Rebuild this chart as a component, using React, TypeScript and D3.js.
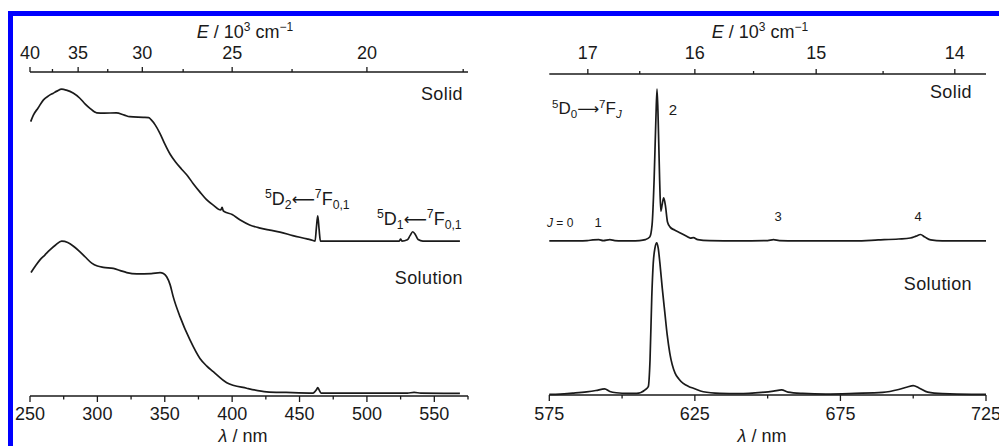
import React from "react";
import * as d3 from "d3";

// ---------- data (wavelength nm, relative intensity 0-100) ----------
const absSolid: [number, number][] = [
  [250.5, 84.7], [252.5, 86.7], [256, 88.9], [260, 91.4], [264, 92.7], [267, 93.4], [270, 94.1],
  [273.5, 94.7], [277, 94.4], [282, 93.5], [287, 91.9], [291, 90.1], [294.5, 88.8], [299.5, 87.4],
  [305, 87.3], [314, 87.4], [320, 86.7], [324, 86.2], [334, 86.0], [338, 85.9], [340, 85.2],
  [343, 83.6], [346.5, 81.0], [350, 77.8], [354, 74.6], [358, 72.2], [362.5, 70.0], [367, 67.9],
  [371, 65.6], [376, 63.0], [381, 60.6], [386, 58.9], [391.5, 57.4], [392.5, 58.2], [393.5, 57.1],
  [400, 56.0], [406, 54.3], [413, 52.8], [420, 51.9], [428, 51.2], [435.5, 50.6], [445, 49.5],
  [455.5, 48.5], [460, 48.0], [461.5, 47.8], [462.5, 51.9], [463.5, 55.6], [464.5, 51.5],
  [465.5, 47.8], [470, 47.8], [500, 47.8], [524, 47.8], [525, 48.4], [526, 47.8], [530, 48.2],
  [532, 49.5], [534, 50.7], [536, 49.8], [538, 48.3], [541.6, 47.8], [550, 47.8], [569, 47.8]
];

const absSolution: [number, number][] = [
  [250.7, 38.1], [254, 40.1], [257.4, 42.0], [261, 43.5], [264.8, 45.1], [269, 46.6], [273.5, 47.8],
  [278, 47.4], [283, 46.0], [287.1, 44.5], [291, 42.9], [295.8, 41.0], [300, 40.1], [304.4, 39.7],
  [311.8, 39.4], [317, 38.7], [321.8, 38.1], [329.2, 37.7], [340, 37.8], [346.5, 38.1], [349, 37.8],
  [351.4, 36.8], [354, 34.3], [356.3, 30.6], [361.3, 24.5], [368.7, 17.3], [376.1, 11.6], [381, 9.3],
  [386, 7.5], [396, 4.1], [410.8, 2.4], [425.6, 1.3], [440, 1.1], [460, 0.9], [462.5, 1.9],
  [463.5, 2.6], [464.5, 1.9], [466, 0.9], [530, 0.9], [535, 1.1], [540, 0.9], [569, 0.8]
];

const emSolid: [number, number][] = [
  [575, 48.0], [580, 48.0], [585, 48.0], [588, 48.1], [590, 48.3], [592, 48.4], [593.5, 48.1],
  [595.8, 48.4], [597.5, 48.1], [600, 48.0], [603, 48.0], [606, 48.1], [608, 48.4], [609.5, 49.2],
  [610.3, 53.0], [611, 67.0], [611.6, 85.7], [612, 95.3], [612.4, 85.7], [612.9, 67.0], [613.3, 57.3],
  [613.8, 59.5], [614.3, 61.4], [614.9, 58.9], [615.6, 53.9], [616.5, 52.3], [618, 51.4], [620, 50.5],
  [622, 49.5], [623.5, 48.9], [624.5, 49.0], [626, 48.4], [630, 48.1], [640, 48.0], [650, 48.1],
  [652, 48.4], [654, 48.1], [660, 48.0], [670, 48.0], [680, 48.0], [688, 48.3], [695, 48.6],
  [699, 48.9], [701, 49.5], [702.5, 50.0], [704, 49.2], [706, 48.3], [710, 48.0], [725, 48.0]
];

const emSolution: [number, number][] = [
  [575, 0.2], [578.7, 0.3], [583, 0.6], [587.8, 1.0], [591, 1.4], [594, 1.9], [595.8, 1.1],
  [598, 0.7], [602, 0.5], [605, 0.5], [607.9, 1.6], [609, 2.6], [609.6, 10.9], [610.2, 30.6],
  [610.7, 41.0], [611.3, 45.8], [611.9, 47.4], [612.4, 45.8], [613, 41.0], [613.8, 33.3],
  [614.7, 25.5], [615.5, 18.7], [616.4, 13.0], [618.2, 6.8], [619.5, 5.0], [621, 3.6], [623, 2.6],
  [624.5, 2.1], [627.9, 1.0], [633.6, 0.5], [640, 0.4], [648, 0.8], [652, 1.2], [654.8, 1.6],
  [657, 0.9], [662, 0.5], [670, 0.3], [680, 0.5], [689.5, 0.8], [695, 1.7], [698, 2.5], [700, 2.9],
  [702, 2.2], [705, 0.9], [710, 0.4], [720, 0.2], [725, 0.2]
];

const leftNmMajor = [250, 300, 350, 400, 450, 500, 550];
const leftNmMinor = [275, 325, 375, 425, 475, 525, 575];
const leftEMajor = [40, 35, 30, 25, 20];
const leftEMinor = [37.5, 32.5, 27.5, 22.5, 17.5];
const rightNmMajor = [575, 625, 675, 725];
const rightNmMinor = [600, 650, 700];
const rightEMajor = [17, 16, 15, 14];
const rightEMinor = [16.5, 15.5, 14.5];

const FONT = "'Liberation Sans', Arial, Helvetica, sans-serif";
const INK = "#1a1a1a";

type PanelProps = {
  x0: number; x1: number; top: number; bottom: number;
  domain: [number, number];
  nmMajor: number[]; nmMinor: number[]; eMajor: number[]; eMinor: number[];
  series: [number, number][][];
  titleTopX: number; titleBotX: number;
};

function Panel(p: PanelProps) {
  const x = d3.scaleLinear().domain(p.domain).range([p.x0, p.x1]);
  const y = d3.scaleLinear().domain([0, 100]).range([p.bottom, p.top]);
  const line = d3.line<[number, number]>().x(d => x(d[0])).y(d => y(d[1])).curve(d3.curveMonotoneX);
  const ex = (e: number) => x(10000 / e);
  return (
    <g>
      {/* top axis */}
      <line x1={p.x0} x2={p.x1} y1={p.top} y2={p.top} stroke={INK} strokeWidth={1.5} />
      {p.eMajor.map(e => (
        <g key={"em" + e}>
          <line x1={ex(e)} x2={ex(e)} y1={p.top} y2={p.top - 5} stroke={INK} strokeWidth={1.3} />
          <text x={ex(e)} y={59} textAnchor="middle" fontSize={18} fill={INK}>{e}</text>
        </g>
      ))}
      {p.eMinor.map(e => (
        <line key={"en" + e} x1={ex(e)} x2={ex(e)} y1={p.top} y2={p.top - 3} stroke={INK} strokeWidth={1.3} />
      ))}
      <text x={p.titleTopX} y={38} textAnchor="middle" fontSize={18} fill={INK}>
        <tspan fontStyle="italic">E</tspan>
        <tspan> / 10</tspan>
        <tspan fontSize={12} dy={-7}>3</tspan>
        <tspan dy={7}> cm</tspan>
        <tspan fontSize={12} dy={-7}>−1</tspan>
      </text>
      {/* bottom axis */}
      <line x1={p.x0} x2={p.x1} y1={p.bottom} y2={p.bottom} stroke={INK} strokeWidth={1.5} />
      {p.nmMajor.map(v => (
        <g key={"nm" + v}>
          <line x1={x(v)} x2={x(v)} y1={p.bottom} y2={p.bottom + 6} stroke={INK} strokeWidth={1.3} />
          <text x={x(v)} y={420} textAnchor="middle" fontSize={18} fill={INK}>{v}</text>
        </g>
      ))}
      {p.nmMinor.map(v => (
        <line key={"nn" + v} x1={x(v)} x2={x(v)} y1={p.bottom} y2={p.bottom + 3.5} stroke={INK} strokeWidth={1.3} />
      ))}
      <text x={p.titleBotX} y={442} textAnchor="middle" fontSize={18} fill={INK}>
        <tspan fontStyle="italic">λ</tspan>
        <tspan> / nm</tspan>
      </text>
      {p.series.map((s, i) => (
        <path key={i} d={line(s) || ""} fill="none" stroke={INK} strokeWidth={1.7} strokeLinejoin="round" />
      ))}
    </g>
  );
}

function Term(props: { x: number; y: number; a: string; b: string; c: string; arrow: string; d: string; size: number; italicE?: boolean }) {
  const s = props.size;
  const sm = s * 0.68;
  return (
    <text x={props.x} y={props.y} fontSize={s} fill={INK}>
      <tspan fontSize={sm} dy={-s * 0.38}>{props.a}</tspan>
      <tspan dy={s * 0.38}>D</tspan>
      <tspan fontSize={sm} dy={s * 0.22}>{props.b}</tspan>
      <tspan dy={-s * 0.22} fontFamily="'DejaVu Sans', sans-serif" fontSize={s * 0.9}>{props.arrow}</tspan>
      <tspan fontSize={sm} dy={-s * 0.38}>{props.c}</tspan>
      <tspan dy={s * 0.38}>F</tspan>
      <tspan fontSize={sm} dy={s * 0.22} fontStyle={props.italicE ? "italic" : "normal"}>{props.d}</tspan>
    </text>
  );
}

export default function App() {
  return (
    <div style={{ position: "absolute", left: 0, top: 0 }}>
      <svg width={999} height={446} style={{ display: "block", fontFamily: FONT }}>
        <rect x={0} y={0} width={999} height={446} fill="#ffffff" />
        <rect x={8} y={11} width={991} height={5} fill="#0000ff" />
        <rect x={8} y={11} width={5} height={435} fill="#0000ff" />
        <Panel x0={30} x1={468} top={72} bottom={396} domain={[250, 575]}
          nmMajor={leftNmMajor} nmMinor={leftNmMinor} eMajor={leftEMajor} eMinor={leftEMinor}
          series={[absSolid, absSolution]} titleTopX={245} titleBotX={243} />
        <Panel x0={549.3} x1={986} top={74} bottom={395} domain={[575, 725]}
          nmMajor={rightNmMajor} nmMinor={rightNmMinor} eMajor={rightEMajor} eMinor={rightEMinor}
          series={[emSolid, emSolution]} titleTopX={760} titleBotX={762} />
        {/* left labels */}
        <text x={463} y={100} textAnchor="end" fontSize={18} fill={INK} letterSpacing={0.4}>Solid</text>
        <text x={463} y={284} textAnchor="end" fontSize={18} fill={INK} letterSpacing={0.4}>Solution</text>
        <Term x={265} y={205} a="5" b="2" arrow="⟵" c="7" d="0,1" size={18} />
        <Term x={377} y={225} a="5" b="1" arrow="⟵" c="7" d="0,1" size={18} />
        {/* right labels */}
        <text x={972} y={98} textAnchor="end" fontSize={18} fill={INK} letterSpacing={0.4}>Solid</text>
        <text x={972} y={290} textAnchor="end" fontSize={18} fill={INK} letterSpacing={0.4}>Solution</text>
        <Term x={552} y={114} a="5" b="0" arrow="⟶" c="7" d="J" size={17} italicE={true} />
        <text x={673} y={115} textAnchor="middle" fontSize={15} fill={INK}>2</text>
        <text x={547} y={227} fontSize={12} fill={INK}><tspan fontStyle="italic">J</tspan> = 0</text>
        <text x={598} y={227} textAnchor="middle" fontSize={13} fill={INK}>1</text>
        <text x={778} y={221} textAnchor="middle" fontSize={13} fill={INK}>3</text>
        <text x={918} y={221} textAnchor="middle" fontSize={13} fill={INK}>4</text>
      </svg>
    </div>
  );
}
